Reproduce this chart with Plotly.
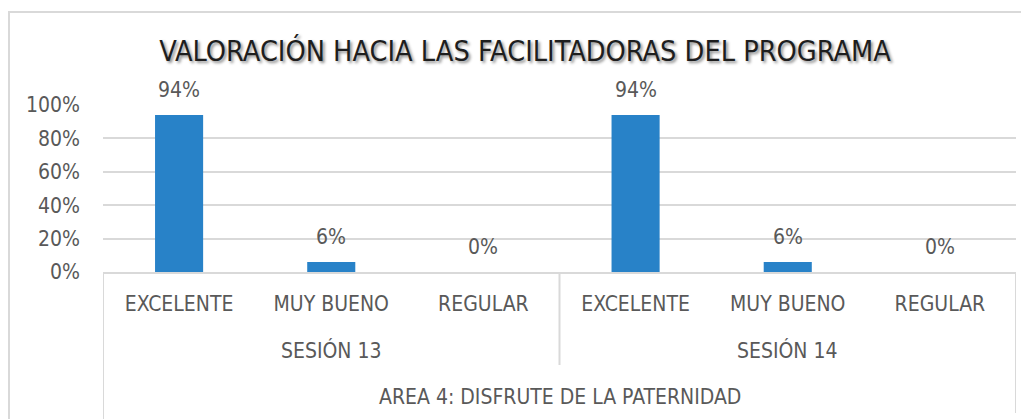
import plotly.graph_objects as go

title_text = "VALORACIÓN HACIA LAS FACILITADORAS DEL PROGRAMA"
ratings = ["EXCELENTE", "MUY BUENO", "REGULAR", "EXCELENTE", "MUY BUENO", "REGULAR"]
sessions = ["SESIÓN 13", "SESIÓN 14"]
area = "AREA 4: DISFRUTE DE LA PATERNIDAD"
values = [0.94, 0.06, 0.0, 0.94, 0.06, 0.0]
value_labels = ["94%", "6%", "0%", "94%", "6%", "0%"]
y_ticks = [0, 0.2, 0.4, 0.6, 0.8, 1.0]
y_tick_labels = ["0%", "20%", "40%", "60%", "80%", "100%"]

FONT = "DejaVu Sans Condensed, Liberation Sans, sans-serif"
FS = 21
GREY = "#595959"
LINE = "#D9D9D9"
BAR = "#2882C8"

xpos = list(range(len(ratings)))

fig = go.Figure()
fig.add_trace(go.Bar(x=xpos, y=values, marker=dict(color=BAR, line=dict(width=0)),
                     hoverinfo="skip"))

# page body has an 8px margin; figure is sized/offset to compensate
OFF = 8
W, H = 1029 - OFF, 419 - OFF
L, R, T, B = 103 - OFF, 13, 105 - OFF, 147
ph = H - T - B
pw = W - L - R

def py(pix):  # reference-image y pixel -> paper coordinate
    return (H - B - (pix - OFF)) / ph

def px(pix):  # reference-image x pixel -> paper coordinate
    return ((pix - OFF) - L) / pw

annotations = []
for xi, v, lab in zip(xpos, values, value_labels):
    annotations.append(dict(x=xi, y=v, xref="x", yref="y", text=lab, showarrow=False,
                            yanchor="middle", yshift=25,
                            font=dict(family=FONT, size=FS, color=GREY)))
n_per = 3
for i, s in enumerate(sessions):
    annotations.append(dict(x=i * n_per + (n_per - 1) / 2, y=py(350), xref="x", yref="paper",
                            text=s, showarrow=False, yanchor="middle",
                            font=dict(family=FONT, size=FS, color=GREY)))
annotations.append(dict(x=(len(ratings) - 1) / 2, y=py(397), xref="x", yref="paper",
                        text=area, showarrow=False, yanchor="middle",
                        font=dict(family=FONT, size=FS, color=GREY)))

shapes = [
    dict(type="line", xref="x", yref="paper", x0=-0.5, x1=-0.5, y0=0, y1=py(425),
         line=dict(color=LINE, width=2)),
    dict(type="line", xref="x", yref="paper", x0=2.5, x1=2.5, y0=0, y1=py(365),
         line=dict(color=LINE, width=2)),
    dict(type="line", xref="x", yref="paper", x0=5.5, x1=5.5, y0=0, y1=py(413),
         line=dict(color=LINE, width=2)),
    dict(type="rect", xref="paper", yref="paper", x0=px(9), x1=px(1045), y0=py(12), y1=py(440),
         line=dict(color=LINE, width=2), layer="below"),
]

fig.update_layout(
    width=W, height=H,
    margin=dict(l=L, r=R, t=T, b=B),
    paper_bgcolor="white", plot_bgcolor="white",
    showlegend=False,
    bargap=0.684,
    title=dict(text=title_text, x=(525 - OFF) / W, xref="container", xanchor="center",
               y=1 - (51 - OFF) / H, yref="container", yanchor="middle",
               font=dict(family=FONT, size=28.6, color="#1e1e1e",
                         shadow="2px 2px 3px rgba(0,0,0,0.45)")),
    xaxis=dict(tickmode="array", tickvals=xpos, ticktext=ratings, range=[-0.5, 5.5],
               showgrid=False, zeroline=False, showline=True, linecolor=LINE, linewidth=2,
               ticks="", ticklabelstandoff=12,
               tickfont=dict(family=FONT, size=FS, color=GREY)),
    yaxis=dict(range=[0, 1], tickmode="array", tickvals=y_ticks, ticktext=y_tick_labels,
               showgrid=True, gridcolor=LINE, gridwidth=2, zeroline=False, showline=False,
               ticks="", ticklabelstandoff=22,
               tickfont=dict(family=FONT, size=FS, color=GREY)),
    annotations=annotations,
    shapes=shapes,
)

fig.write_html("out.html")
